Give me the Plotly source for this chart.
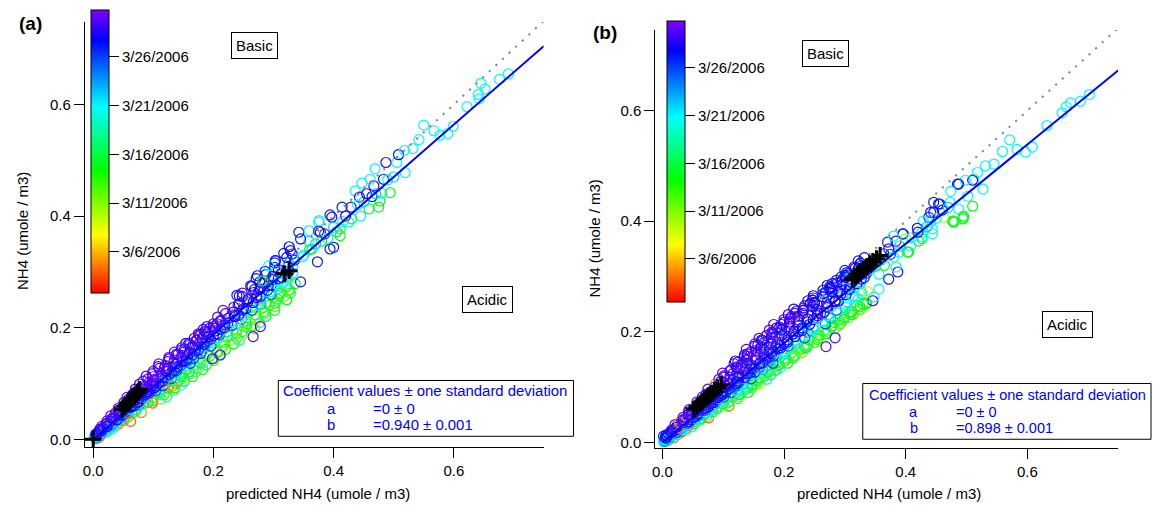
import plotly.graph_objects as go

W, H = 1154, 508

# ---------------- x positions of the dense band ----------------
col_x0 = [0.004,0.008,0.012,0.016,0.020,0.024,0.028,0.032,0.036,0.040,0.044,0.048,0.052,0.056,0.060,0.064,0.068,0.072,0.076,0.080,0.084,0.088,0.092,0.096,0.100,
          0.105,0.110,0.115,0.120,0.125,0.130,0.135,0.140,0.145,0.150,0.155,0.160,0.165,0.170,0.175,0.180,0.185,0.190,0.195,0.200,
          0.206,0.212,0.218,0.224,0.230,0.236,0.242,0.248,0.254,0.260,0.266,0.272,0.278,0.284,0.290,0.296,0.302,0.308,0.314,0.320,0.326,0.332]
col_xA = [0.005,0.006,0.014,0.015,0.023,0.021,0.028,0.034,0.034,0.043,0.043,0.044,0.056,0.057,0.057,0.069,0.066,0.072,0.079,0.075,0.086,0.087,0.096,0.093,0.101,
          0.099,0.113,0.122,0.118,0.120,0.134,0.135,0.146,0.138,0.152,0.152,0.165,0.159,0.171,0.182,0.176,0.188,0.183,0.200,0.200,
          0.212,0.207,0.220,0.216,0.234,0.243,0.239,0.248,0.248,0.268,0.264,0.277,0.271,0.287,0.286,0.302,0.302,0.303,0.322,0.317,0.328,0.326]
col_xB = [0.002,0.009,0.011,0.019,0.017,0.026,0.026,0.032,0.039,0.039,0.048,0.045,0.053,0.052,0.062,0.063,0.073,0.069,0.076,0.083,0.080,0.090,0.090,0.101,0.099,
          0.109,0.105,0.116,0.126,0.122,0.123,0.140,0.138,0.148,0.157,0.149,0.160,0.169,0.165,0.174,0.186,0.181,0.192,0.188,0.203,
          0.202,0.219,0.212,0.225,0.235,0.233,0.250,0.241,0.257,0.258,0.272,0.267,0.278,0.291,0.282,0.298,0.299,0.313,0.308,0.324,0.325,0.335]
col_xC = [0.006,0.008,0.010,0.017,0.019,0.027,0.025,0.034,0.036,0.038,0.047,0.049,0.048,0.059,0.059,0.061,0.070,0.076,0.074,0.080,0.087,0.084,0.093,0.094,0.104,
          0.102,0.116,0.111,0.122,0.130,0.124,0.138,0.139,0.140,0.154,0.161,0.157,0.167,0.163,0.179,0.181,0.180,0.196,0.193,0.196,
          0.209,0.210,0.224,0.218,0.231,0.232,0.247,0.250,0.247,0.264,0.265,0.279,0.275,0.279,0.296,0.294,0.306,0.300,0.315,0.325,0.322,0.332]
col_xD = [0.004,0.010,0.011,0.014,0.022,0.023,0.031,0.029,0.037,0.042,0.042,0.051,0.051,0.058,0.056,0.065,0.071,0.070,0.080,0.077,0.083,0.091,0.088,0.098,0.100,
          0.110,0.108,0.109,0.124,0.126,0.126,0.141,0.135,0.147,0.147,0.160,0.154,0.172,0.168,0.178,0.175,0.186,0.194,0.189,0.206,
          0.201,0.215,0.217,0.230,0.223,0.238,0.239,0.255,0.255,0.254,0.270,0.270,0.284,0.280,0.293,0.289,0.307,0.309,0.311,0.327,0.321,0.336]

# ---------------- data : panel (a) ----------------
a_tp_y = [.009,.014,.018,.023,.028,.033,.037,.042,.047,.052,.056,.061,.066,.071,.075,.080,.085,.090,.094,.099,.104,.108,.113,.117,.122,
          .127,.130,.135,.139,.144,.147,.152,.156,.160,.164,.169,.172,.177,.181,.186,.189,.194,.199,.202,.207]
a_tp_d = [27,29,28,30,29,30,29,30,30,29,30,30,29,30,30,29,30,30,30,29,30,30,29,30,30,
          30,29,30,30,28,30,29,30,30,29,30,27,30,29,30,30,28,30,29,30]
a_up_y = [.007,.011,.015,.019,.023,.027,.032,.036,.040,.044,.049,.053,.057,.061,.066,.070,.074,.078,.082,.086,.090,.094,.098,.102,.107,
          .112,.117,.122,.127,.132,.137,.142,.147,.152,.157,.162,.167,.172,.177,.182,.187,.192,.197,.202,.207,
          .213,.219,.225,.231,.237,.243,.258,.256,.262,.268,.274,.282,.288,.295,.301,.308,.316,.320,.326,.333,.338,.345]
a_up_d = [27,28,27,29,28,29,30,29,30,29,30,30,29,30,30,29,30,30,29,30,30,29,30,30,29,
          30,30,29,30,30,29,30,30,29,30,30,29,30,30,29,30,30,29,30,29,
          30,30,29,30,30,28,27,29,30,29,28,27,29,28,27,27,27,28,28,27,29,28]
a_ce_y = [.004,.008,.012,.016,.020,.023,.027,.031,.035,.039,.042,.046,.050,.054,.058,.062,.066,.070,.073,.077,.081,.085,.089,.093,.097,
          .101,.106,.111,.116,.121,.126,.130,.135,.140,.145,.150,.155,.160,.164,.169,.174,.179,.184,.189,.194,
          .199,.205,.211,.217,.222,.228,.234,.240,.246,.251,.257,.263,.269,.275,.280,.286,.292,.298,.304,.310,.315,.321]
a_ce_d = [22,21,23,21,24,22,26,22,27,21,26,28,24,27,28,26,29,27,28,26,29,28,27,29,28,
          27,29,28,27,29,28,27,29,28,27,29,28,26,29,28,27,29,28,27,28,
          27,29,28,27,29,27,28,30,29,28,30,29,28,27,29,28,29,26,28,27,22,27]
a_md_y = [.002,.006,.010,.012,.017,.019,.024,.028,.030,.035,.038,.043,.045,.050,.053,.058,.060,.065,.067,.073,.075,.080,.082,.088,.090,
          .095,.101,.104,.111,.113,.120,.123,.130,.132,.139,.141,.149,.151,.158,.160,.167,.170,.177,.179,.186,
          .189,.197,.200,.208,.211,.220,.222,.231,.234,.243,.245,.254,.256,.265,.267,.276,.279,.288,.290,.299,.301,.310]
a_md_d = [24,21,26,22,28,21,25,29,22,27,23,29,26,28,21,29,27,24,29,28,22,29,27,30,26,
          29,27,30,28,22,29,27,30,25,28,29,21,30,27,29,24,28,30,26,29,
          28,30,27,29,22,28,30,26,29,21,28,27,30,22,29,28,21,27,29,22,28,21]
a_lo_y = [.002,.005,.009,.013,.016,.020,.023,.027,.030,.034,.037,.041,.044,.048,.051,.055,.058,.062,.066,.069,.073,.076,.080,.083,.087,
          .091,.096,.100,.105,.109,.114,.118,.123,.127,.131,.136,.140,.145,.149,.154,.158,.163,.167,.172,.176,
          .182,.187,.193,.198,.204,.209,.215,.220,.226,.231,.237,.242,.248,.253,.259,.264,.270,.275,.281,.286,.292,.298]
a_lo_d = [21,22,21,20,21,21,21,20,21,22,21,20,21,22,21,22,21,23,21,20,22,24,21,22,25,
          22,26,21,23,26,22,21,26,24,21,27,23,26,22,27,24,21,26,22,21,
          20,25,22,20,26,21,24,20,22,26,21,23,20,22,25,21,20,22,21,21,17,21]
a_bo_y = [.001,.003,.006,.009,.012,.015,.018,.021,.024,.027,.030,.034,.037,.040,.044,.047,.050,.053,.048,.060,.063,.066,.069,.065,.075,
          .080,.084,.088,.092,.096,.095,.104,.108,.112,.116,.121,.125,.129,.133,.137,.141,.145,.149,.153,.157,
          .163,.168,.174,.179,.185,.190,.196,.201,.207,.212,.218,.223,.229,.234,.240,.246,.251,.257,.262,.268,.273,.279]
a_bo_d = [20,5,20,4,21,5,19,3,20,5,18,4,16,5,17,14,19,15,5,16,19,14,17,5,15,
          18,16,19,14,17,5,15,19,16,13,17,14,20,12,16,19,11,15,17,13,
          15,12,16,11,14,17,12,15,13,16,11,14,16,12,15,13,16,14,15,12,14,15]
a_bt_y = [.069,.072,.076,.080,.085,.088,.092,.097,.100,.104,.109,.112,.116,.121,.125,.128,.133,.137,.141,.145,
          .151,.155,.161,.166,.171,.177,.181,.187,.193,.198,.203,.209,.214,.220,.226,.231,.238,.244,.250,.256,.262,.268]
a_bt_d = [15,12,20,16,11,18,14,21,13,17,10,15,19,12,16,11,14,20,13,15,
          12,16,14,11,15,20,13,10,16,12,14,21,11,15,13,16,12,14,15,11,16,14]
a_ex_x = [0.062,0.132,0.099,0.198,0.211,0.266,0.278,0.243,0.273,0.262,0.282,0.303,0.292,0.345,0.309,
          0.331,0.348,0.373,0.364,0.359,0.342,0.378,0.394,0.375,0.397,0.414,0.425,
          0.345,0.359,0.375,0.376,0.394,0.411,0.411,0.400,0.429,0.445,0.459,0.475,0.477,0.436,0.443,0.464,0.480,0.494,0.447,0.467,0.461,0.483,0.469,0.519,0.505,0.487,0.508,0.518,0.532,0.542,0.550,0.567,0.577,0.599,0.590,0.622,0.641,0.642,0.645,0.652,0.676,0.691,
          0.350,0.360,0.370,0.380,0.385,0.390,0.400,0.405,0.415,0.420,0.430,0.440,0.450,0.455,0.470,0.490,0.500]
a_ex_y = [0.032,0.095,0.065,0.144,0.151,0.184,0.202,0.257,0.293,0.275,0.284,0.320,0.311,0.282,0.282,
          0.332,0.327,0.318,0.341,0.355,0.371,0.371,0.341,0.389,0.398,0.416,0.389,
          0.359,0.374,0.373,0.392,0.402,0.377,0.365,0.344,0.416,0.400,0.413,0.416,0.427,0.445,0.434,0.435,0.441,0.442,0.459,0.454,0.466,0.466,0.485,0.478,0.496,0.496,0.510,0.518,0.521,0.537,0.563,0.553,0.545,0.561,0.548,0.596,0.618,0.610,0.638,0.628,0.645,0.655,
          0.330,0.340,0.350,0.355,0.368,0.360,0.380,0.372,0.390,0.400,0.395,0.420,0.425,0.440,0.440,0.465,0.470]
a_ex_d = [4,5,5,30,30,30,30,27,27,27,15,27,21,27,21,
          27,21,27,15,21,27,29,27,21,29,27,21,
          27,21,29,21,27,14,15,27,27,21,15,15,15,21,29,27,21,15,21,29,21,27,21,21,21,29,28,21,21,21,21,21,21,21,21,21,21,21,21,21,21,21,
          21,16,22,14,26,20,22,16,21,29,15,21,22,28,22,21,22]
a_cross_x = [0.000,0.048,0.053,0.057,0.061,0.065,0.069,0.073,0.077,0.318,0.326]
a_cross_y = [0.000,0.053,0.059,0.064,0.069,0.074,0.079,0.084,0.089,0.297,0.302]
a_slope = 0.940

# ---------------- data : panel (b) ----------------
b_tp_y = [.009,.013,.018,.022,.027,.032,.036,.041,.045,.050,.055,.059,.064,.068,.073,.078,.082,.087,.091,.096,.100,.105,.110,.114,.120,
          .125,.131,.136,.142,.147,.153,.158,.164,.168,.174,.178,.184,.188,.193,.198,.203,.207,.213,.217,.222,
          .227,.231,.237,.241,.247,.251,.256,.261,.265,.271,.275,.279,.284,.288,.293,.298,.302,.307,.311,.315,.320,.324]
b_tp_d = [27,29,28,30,29,30,5,30,30,29,30,30,29,6,30,29,30,30,30,29,30,5,29,30,30,
          30,29,30,30,28,30,29,30,30,29,30,27,30,29,30,30,28,30,29,30,
          30,29,30,28,30,27,29,30,28,27,29,28,27,29,27,28,27,29,27,28,27,28]
b_tp2_y = [.118,.124,.129,.135,.140,.145,.150,.156,.160,.166,.170,.176,.180,.185,.190,.195,.199,.204,.208,.213,
           .218,.223,.228,.233,.238,.243,.247,.253,.257,.263,.267,.272,.277,.281,.286,.291,.295,.301,.305,.309,.314,.319]
b_tp2_d = [29,27,30,28,29,30,27,29,28,30,27,29,30,28,27,29,30,27,28,29,
           28,29,27,30,28,27,29,28,27,29,22,28,27,29,28,27,22,28,27,29,28,27]
b_up_y = [.007,.011,.015,.019,.023,.027,.031,.035,.039,.043,.047,.051,.055,.059,.063,.067,.071,.075,.079,.083,.087,.091,.095,.099,.103,
          .108,.113,.118,.123,.128,.133,.138,.143,.148,.153,.158,.163,.168,.173,.178,.183,.188,.193,.198,.203,
          .209,.215,.221,.227,.233,.239,.245,.251,.257,.263,.269,.275,.281,.287,.293,.299,.305,.311,.317,.323,.328,.334]
b_up_d = [27,28,29,28,29,5,30,29,30,29,30,29,30,30,29,5,30,30,29,30,30,6,30,30,29,
          30,30,29,30,6,29,30,30,29,30,30,29,30,30,29,30,30,29,30,29,
          30,30,29,30,30,28,27,29,30,29,28,27,29,28,27,27,28,27,29,28,27,28]
b_ce_y = [.004,.008,.011,.015,.019,.022,.026,.030,.034,.037,.041,.045,.048,.052,.056,.059,.063,.067,.070,.074,.078,.081,.085,.089,.093,
          .097,.102,.106,.111,.116,.120,.125,.129,.134,.139,.143,.148,.152,.157,.162,.166,.171,.175,.180,.185,
          .190,.196,.201,.207,.212,.218,.223,.229,.234,.240,.245,.251,.256,.262,.267,.273,.278,.284,.289,.295,.300,.306]
b_ce_d = [21,22,21,23,22,26,22,27,22,28,26,28,24,27,28,26,29,27,28,26,29,28,27,29,28,
          27,29,28,27,29,28,27,29,28,27,29,28,26,29,28,27,29,28,27,28,
          27,29,28,27,29,27,28,30,29,28,30,29,28,27,29,28,29,26,28,27,22,27]
b_md_y = [.002,.006,.009,.012,.016,.018,.023,.026,.029,.034,.036,.041,.043,.048,.051,.055,.058,.062,.064,.070,.072,.077,.079,.084,.087,
          .091,.097,.099,.106,.108,.115,.117,.124,.126,.133,.135,.142,.144,.151,.153,.160,.162,.169,.171,.178,
          .181,.189,.191,.200,.202,.211,.213,.222,.224,.233,.235,.244,.245,.254,.256,.265,.267,.276,.278,.287,.289,.298]
b_md_d = [26,22,28,21,24,29,22,27,21,29,25,28,22,29,27,21,30,26,28,24,29,27,22,30,28,
          27,30,24,29,28,21,30,27,29,25,22,28,29,30,26,29,21,28,27,30,
          29,22,28,30,27,21,29,28,22,30,27,29,21,28,30,22,29,27,21,28,22,27]
b_lo_y = [.002,.005,.008,.012,.015,.018,.021,.024,.028,.031,.035,.038,.041,.045,.048,.052,.055,.058,.062,.065,.068,.072,.075,.078,.082,
          .086,.090,.094,.098,.102,.106,.110,.115,.119,.123,.127,.131,.135,.139,.143,.148,.152,.156,.160,.164,
          .169,.174,.179,.184,.189,.194,.199,.204,.209,.214,.219,.224,.229,.234,.239,.244,.249,.254,.259,.264,.269,.274]
b_lo_d = [22,21,20,21,21,21,20,21,21,22,21,20,21,22,21,22,21,23,21,20,22,24,21,22,25,
          22,26,21,23,26,22,21,26,24,21,27,23,26,22,27,24,21,26,22,21,
          20,25,22,20,26,21,24,20,22,26,21,23,20,22,25,21,20,22,21,21,17,21]
b_bo_y = [.001,.003,.005,.008,.011,.014,.016,.019,.022,.025,.028,.031,.034,.037,.040,.043,.046,.049,.044,.055,.058,.061,.064,.067,.070,
          .065,.078,.082,.086,.090,.094,.098,.101,.105,.109,.113,.117,.121,.124,.128,.132,.136,.140,.144,.148,
          .152,.157,.161,.166,.171,.175,.180,.185,.189,.194,.199,.203,.208,.212,.217,.222,.226,.231,.236,.240,.245,.250]
b_bo_d = [20,5,21,4,20,5,19,3,20,5,18,4,16,5,17,14,19,15,4,16,19,14,17,20,15,
          5,16,19,14,17,20,15,19,16,13,17,14,20,12,16,19,11,15,17,13,
          15,12,16,11,14,17,12,15,13,16,11,14,16,12,15,13,16,14,15,12,14,15]
b_bt_y = [.066,.071,.074,.079,.082,.087,.090,.095,.098,.103,.106,.111,.114,.119,.122,.127,.130,.135,.138,.143,
          .147,.152,.157,.162,.167,.172,.176,.182,.186,.192,.196,.201,.206,.211,.215,.221,.226,.231,.236,.241,.247,.252]
b_bt_d = [15,12,20,16,11,18,14,21,13,17,10,15,19,12,16,11,14,20,13,15,
          12,16,14,11,15,20,13,10,16,12,14,21,11,15,13,16,12,14,15,11,16,14]
b_ex_x = [0.002,0.269,0.284,
          0.338,0.346,0.348,0.356,0.313,0.330,0.356,0.372,0.387,0.384,0.389,0.403,0.370,0.384,0.421,0.408,0.395,0.444,0.427,0.427,0.441,0.446,0.454,0.495,0.477,0.485,0.479,0.494,
          0.702,0.687,0.671,0.664,0.657,0.632,0.608,0.597,0.583,0.571,0.559,0.545,0.531,0.518,0.512,0.510,0.498,0.487,0.527,0.502,0.474,0.510,0.473,0.456,0.446,0.487,0.495,0.479,0.462,0.441,0.438,0.429,0.444,0.419,0.427,0.396,0.400,0.380,0.372,0.405,0.364,
          0.340,0.350,0.360,0.365,0.375,0.380,0.390,0.410,0.420,0.435,0.450,0.460,0.470]
b_ex_y = [0.011,0.173,0.189,
          0.272,0.256,0.263,0.277,0.265,0.250,0.304,0.295,0.308,0.317,0.344,0.344,0.362,0.364,0.364,0.355,0.377,0.377,0.368,0.380,0.398,0.416,0.431,0.409,0.400,0.467,0.398,0.404,
          0.629,0.617,0.614,0.607,0.596,0.573,0.534,0.525,0.530,0.547,0.526,0.503,0.500,0.488,0.476,0.474,0.474,0.467,0.458,0.445,0.454,0.427,0.434,0.431,0.434,0.422,0.407,0.400,0.407,0.416,0.407,0.400,0.386,0.387,0.372,0.377,0.368,0.373,0.350,0.344,0.341,
          0.312,0.318,0.330,0.320,0.340,0.335,0.355,0.370,0.380,0.390,0.405,0.420,0.425]
b_ex_d = [27,30,30,
          9,29,21,21,21,15,21,27,29,21,21,15,27,29,15,21,27,21,15,21,21,27,27,15,15,27,15,15,
          21,21,21,21,21,21,21,21,21,21,21,21,21,21,21,29,21,27,21,21,21,15,21,27,27,21,15,15,10,29,27,21,21,27,21,27,10,21,29,15,27,
          21,16,22,14,26,20,22,21,29,22,21,28,22]
b_cross_x = [0.052,0.057,0.062,0.066,0.071,0.076,0.081,0.086,0.091,0.097,0.312,0.317,0.321,0.326,0.331,0.336,0.341,0.346,0.352,0.358]
b_cross_y = [0.060,0.065,0.070,0.074,0.079,0.084,0.089,0.094,0.099,0.104,0.295,0.300,0.304,0.309,0.313,0.318,0.323,0.327,0.332,0.338]
b_slope = 0.898

date_ticks = [6, 11, 16, 21, 26]
date_labels = ["3/6/2006", "3/11/2006", "3/16/2006", "3/21/2006", "3/26/2006"]
axis_ticks = [0.0, 0.2, 0.4, 0.6]

N = len(col_x0)
for L in (col_xA, col_xB, col_xC, col_xD,
          a_up_y, a_up_d, a_ce_y, a_ce_d, a_md_y, a_md_d, a_lo_y, a_lo_d, a_bo_y, a_bo_d,
          b_up_y, b_up_d, b_ce_y, b_ce_d, b_md_y, b_md_d, b_lo_y, b_lo_d, b_bo_y, b_bo_d,
          b_tp_y, b_tp_d):
    assert len(L) == N, len(L)
for L in (a_tp_y, a_tp_d):
    assert len(L) == 45, len(L)
for L in (a_bt_y, a_bt_d, b_bt_y, b_bt_d, b_tp2_y, b_tp2_d):
    assert len(L) == 42, len(L)
assert len(a_ex_x) == len(a_ex_y) == len(a_ex_d)
assert len(b_ex_x) == len(b_ex_y) == len(b_ex_d)

# ---------------- helpers ----------------
def px(x):
    return x / W

def py(y):
    return 1 - y / H

FONT = "Arial, Liberation Sans, sans-serif"
rainbow = [[0.0, "#ff0000"], [0.205, "#ffff00"], [0.435, "#00ff00"],
           [0.657, "#00ffff"], [0.894, "#0000ff"], [1.0, "#7f00ff"]]

fig = go.Figure()


def add_panel(xs, ys, ds, cx, cy, slope, xa, ya, cax):
    fig.add_trace(go.Scatter(
        x=xs, y=ys, mode="markers", xaxis=xa, yaxis=ya, showlegend=False,
        marker=dict(symbol="circle-open", size=10, color=ds, coloraxis=cax,
                    line=dict(width=1.2))))
    fig.add_trace(go.Scatter(
        x=[0, 0.75], y=[0, 0.75], mode="lines", xaxis=xa, yaxis=ya, showlegend=False,
        line=dict(color="#808080", width=2, dash="2px,7px")))
    fig.add_trace(go.Scatter(
        x=[0, 0.75], y=[0, slope * 0.75], mode="lines", xaxis=xa, yaxis=ya, showlegend=False,
        line=dict(color="#0000ff", width=2)))
    fig.add_trace(go.Scatter(
        x=cx, y=cy, mode="markers", xaxis=xa, yaxis=ya, showlegend=False,
        marker=dict(symbol="cross-thin-open", size=12, color="black",
                    line=dict(width=3, color="black"))))


# drawing order: lower/green stripes first, violet on top of them
xa_all = col_xA[25:] + col_xD + col_xC + col_x0 + col_xB + col_xA + col_xD[:45] + a_ex_x
ya_all = a_bt_y + a_bo_y + a_lo_y + a_md_y + a_ce_y + a_up_y + a_tp_y + a_ex_y
da_all = a_bt_d + a_bo_d + a_lo_d + a_md_d + a_ce_d + a_up_d + a_tp_d + a_ex_d
xb_all = col_xD[25:] + col_xB + col_xA + col_x0 + col_xD + col_xC + col_xC[25:] + col_xA + b_ex_x
yb_all = b_bt_y + b_bo_y + b_lo_y + b_md_y + b_ce_y + b_up_y + b_tp2_y + b_tp_y + b_ex_y
db_all = b_bt_d + b_bo_d + b_lo_d + b_md_d + b_ce_d + b_up_d + b_tp2_d + b_tp_d + b_ex_d

add_panel(xa_all, ya_all, da_all, a_cross_x, a_cross_y, a_slope, "x", "y", "coloraxis")
add_panel(xb_all, yb_all, db_all, b_cross_x, b_cross_y, b_slope, "x2", "y2", "coloraxis2")

axis_common = dict(showline=True, linecolor="black", linewidth=1, mirror=False,
                   ticks="outside", ticklen=10, tickwidth=1, tickcolor="black",
                   showgrid=False, zeroline=False, tickvals=axis_ticks,
                   ticktext=["0.0", "0.2", "0.4", "0.6"],
                   tickfont=dict(family=FONT, size=15, color="black"))


def cbar(x_left, y_top, length):
    return dict(x=px(x_left), xanchor="left", y=py(y_top), yanchor="top",
                len=length, lenmode="pixels", thickness=18, thicknessmode="pixels",
                xpad=0, ypad=0, outlinecolor="black", outlinewidth=1,
                tickvals=date_ticks, ticktext=date_labels, ticks="outside",
                ticklen=10, tickcolor="black", tickwidth=1,
                tickfont=dict(family=FONT, size=15, color="black"))


fig.update_layout(
    width=W, height=H, autosize=False,
    margin=dict(l=0, r=0, t=0, b=0),
    paper_bgcolor="white", plot_bgcolor="white",
    font=dict(family=FONT, size=15, color="black"),
    xaxis=dict(domain=[px(82), px(542)], range=[-0.0141, 0.7494], anchor="y", **axis_common),
    yaxis=dict(domain=[py(449), py(22)], range=[-0.0143, 0.748], anchor="x", **axis_common),
    xaxis2=dict(domain=[px(654), px(1118)], range=[-0.0115, 0.749], anchor="y2", **axis_common),
    yaxis2=dict(domain=[py(450), py(30)], range=[-0.0108, 0.746], anchor="x2", **axis_common),
    coloraxis=dict(colorscale=rainbow, cmin=1.8, cmax=30.8, colorbar=cbar(88, 10, 283)),
    coloraxis2=dict(colorscale=rainbow, cmin=1.5, cmax=30.9, colorbar=cbar(666, 21, 281)),
)

ann = []


def text(x, y, t, size=15, color="black", xanchor="center", angle=0, bold=False, box=False):
    d = dict(x=px(x), y=py(y), xref="paper", yref="paper", text=("<b>%s</b>" % t) if bold else t,
             showarrow=False, xanchor=xanchor, yanchor="middle", textangle=angle,
             font=dict(family=FONT, size=size, color=color))
    if box:
        d.update(bordercolor="black", borderwidth=1, borderpad=4, bgcolor="white")
    ann.append(d)


# panel labels
text(27.5, 24, "(a)", size=19, bold=True)
text(603.5, 33, "(b)", size=19, bold=True)
# axis titles
text(19, 232, "NH4 (umole / m3)", angle=-90)
text(593, 239, "NH4 (umole / m3)", angle=-90)
text(316, 495, "predicted NH4 (umole / m3)")
text(888, 495, "predicted NH4 (umole / m3)")
# Basic / Acidic boxes
text(252.5, 46, "Basic", box=True)
text(485.5, 300.5, "Acidic", box=True)
text(824.5, 54, "Basic", box=True)
text(1067, 325.5, "Acidic", box=True)

# coefficient boxes
shapes = []
for (x0, x1, y0, y1, lx, ax_c, vx, ys, bval, fs) in [
        (276, 572, 382, 438, 279, 329, 369, (393, 411, 427), "=0.940 ± 0.001", 14.9),
        (862, 1151, 385, 441, 866, 913, 953, (397, 414, 430), "=0.898 ± 0.001", 14.5)]:
    shapes.append(dict(type="rect", xref="paper", yref="paper",
                       x0=px(x0), x1=px(x1), y0=py(y1), y1=py(y0),
                       line=dict(color="black", width=1), fillcolor="white", layer="above"))
    text(lx, ys[0], "Coefficient values ± one standard deviation", size=fs, color="#0000ff", xanchor="left")
    text(ax_c, ys[1], "a", size=fs, color="#0000ff")
    text(vx, ys[1], "=0 ± 0", size=fs, color="#0000ff", xanchor="left")
    text(ax_c, ys[2], "b", size=fs, color="#0000ff")
    text(vx, ys[2], bval, size=fs, color="#0000ff", xanchor="left")

fig.update_layout(annotations=ann, shapes=shapes)
fig.write_html("out.html")
